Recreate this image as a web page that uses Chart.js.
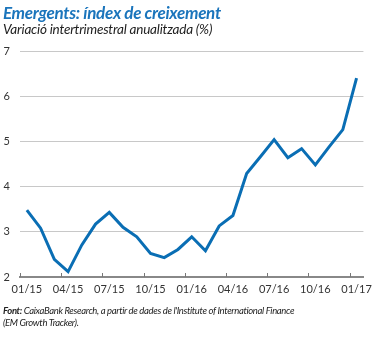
<!DOCTYPE html>
<html lang="ca">
<head>
<meta charset="UTF-8">
<script src="https://cdn.jsdelivr.net/npm/chart.js@4.4.0/dist/chart.umd.min.js"></script>
<style>
  body { margin: 0; background: #fff; font-family: Lato, "Open Sans", sans-serif; }
  #wrap { position: relative; width: 378px; height: 338px; overflow: hidden; }
  #c { position: absolute; left: 0; top: 0; }
  .title { position: absolute; left: 3px; top: 2px; color: #1b75bc; font-weight: bold; font-style: italic; font-size: 17px; letter-spacing: -0.3px; }
  .sub { position: absolute; left: 3px; top: 21px; color: #222; font-style: italic; font-size: 13.5px; letter-spacing: -0.2px; }
  .src { position: absolute; left: 3px; top: 305px; color: #222; font-style: italic; font-size: 9.5px; line-height: 11.5px; letter-spacing: -0.35px; }
  .src b { font-weight: bold; }
</style>
</head>
<body>
<div id="wrap">
  <canvas id="c" width="378" height="338"></canvas>
  <div class="title">Emergents: índex de creixement</div>
  <div class="sub">Variació intertrimestral anualitzada (%)</div>
  <div class="src"><b>Font:</b> CaixaBank Research, a partir de dades de l'Institute of International Finance<br>(EM Growth Tracker).</div>
</div>
<script>
// monthly, 01/15 .. 01/17
const months = ['01/15','02/15','03/15','04/15','05/15','06/15','07/15','08/15','09/15','10/15','11/15','12/15',
                '01/16','02/16','03/16','04/16','05/16','06/16','07/16','08/16','09/16','10/16','11/16','12/16','01/17'];
const growth = [3.48, 3.08, 2.39, 2.12, 2.71, 3.17, 3.43, 3.10, 2.89, 2.52, 2.43, 2.61,
                2.89, 2.58, 3.13, 3.36, 4.29, 4.66, 5.04, 4.64, 4.84, 4.48, 4.88, 5.26, 6.40];
const yTicks = [2, 3, 4, 5, 6, 7];

// small tick marks pointing up from the x axis, every quarter
const upTicks = {
  id: 'upTicks',
  afterDraw(chart) {
    const x = chart.scales.x, ctx = chart.ctx;
    const half = (x.getPixelForValue(1) - x.getPixelForValue(0)) / 2;
    const yb = chart.chartArea.bottom;
    ctx.save();
    ctx.strokeStyle = '#777';
    ctx.lineWidth = 1;
    months.forEach((m, i) => {
      if (i % 3 !== 0) return;
      const px = Math.round(x.getPixelForValue(i) - half) + 0.5;
      ctx.beginPath();
      ctx.moveTo(px, yb);
      ctx.lineTo(px, yb - 4);
      ctx.stroke();
    });
    ctx.restore();
  }
};

new Chart(document.getElementById('c'), {
  type: 'line',
  data: {
    labels: months,
    datasets: [{
      data: growth,
      borderColor: '#0a6eb4',
      borderWidth: 3,
      pointRadius: 0,
      tension: 0,
      borderJoinStyle: 'miter'
    }]
  },
  options: {
    responsive: false,
    animation: false,
    layout: { padding: { left: 0, right: 10, top: 51, bottom: 45 } },
    plugins: { legend: { display: false }, tooltip: { enabled: false } },
    scales: {
      x: {
        offset: true,
        grid: { display: false, drawTicks: false },
        border: { display: true, color: '#888', width: 2 },
        ticks: {
          autoSkip: false, maxRotation: 0, padding: 6,
          color: '#333', font: { size: 11, family: 'Lato' },
          callback: (v, i) => (i % 3 === 0 ? months[i] : '')
        },
        afterFit(s) { s.height = 16; }
      },
      y: {
        min: 2, max: 7,
        afterBuildTicks(s) { s.ticks = yTicks.map(v => ({ value: v })); },
        grid: { color: '#c8c8c8', lineWidth: 1, drawTicks: false },
        border: { display: false },
        ticks: { padding: 10, color: '#333', font: { size: 11, family: 'Lato' } },
        afterFit(s) { s.width = 20; }
      }
    }
  },
  plugins: [upTicks]
});
</script>
</body>
</html>
